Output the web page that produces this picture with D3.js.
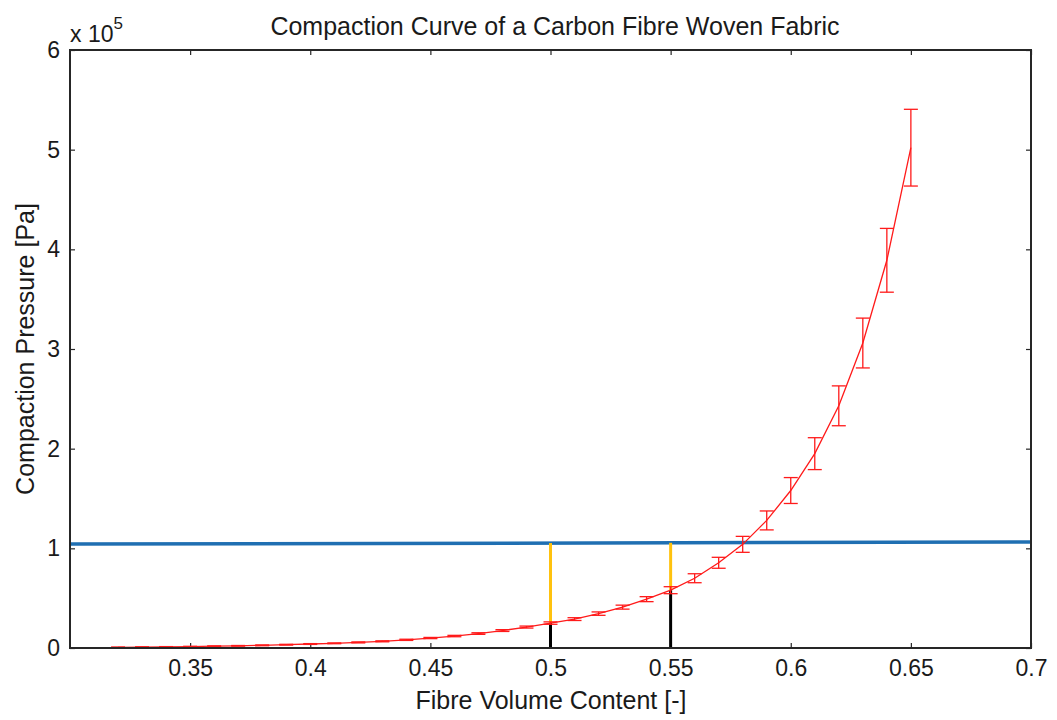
<!DOCTYPE html>
<html>
<head>
<meta charset="utf-8">
<title>Compaction Curve</title>
<style>
	body { margin: 0; background: #fff; }
	text { font-family: "Liberation Sans", Arial, sans-serif; fill: #1a1a1a; }
	.tick text { font-size: 23px; }
	.lbl { font-size: 25px; }
</style>
</head>
<body>
<svg id="chart" width="1057" height="720"></svg>
<script src="https://cdn.jsdelivr.net/npm/d3@7/dist/d3.min.js"></script>
<script>

// fibre volume content of each measurement
var vf = [0.32, 0.33, 0.34, 0.35, 0.36, 0.37, 0.38, 0.39, 0.40, 0.41, 0.42,
	0.43, 0.44, 0.45, 0.46, 0.47, 0.48, 0.49, 0.50, 0.51, 0.52, 0.53, 0.54,
	0.55, 0.56, 0.57, 0.58, 0.59, 0.60, 0.61, 0.62, 0.63, 0.64, 0.65];

// mean pressure, x 10^5 Pa
var pressure = [0.007, 0.009, 0.011, 0.014, 0.018, 0.022, 0.027, 0.033, 0.040, 0.047, 0.056,
	0.067, 0.082, 0.100, 0.120, 0.145, 0.175, 0.210, 0.250, 0.290, 0.345, 0.410, 0.490,
	0.580, 0.700, 0.855, 1.040, 1.280, 1.580, 1.950, 2.430, 3.060, 3.890, 5.020];

// half error, x 10^5 Pa
var err = [0.003, 0.003, 0.003, 0.003, 0.003, 0.003, 0.004, 0.004, 0.004, 0.004, 0.005,
	0.005, 0.006, 0.006, 0.007, 0.008, 0.009, 0.010, 0.012, 0.014, 0.017, 0.020, 0.025,
	0.035, 0.045, 0.055, 0.080, 0.095, 0.130, 0.160, 0.200, 0.250, 0.320, 0.385];

// horizontal reference pressure (start, end)
var refLineX = [0.3, 0.7];
var refLineY = [1.043, 1.063];

// chosen fibre volume contents marked on the curve
var markVf = [0.50, 0.55];

var xTicks = [0.35, 0.4, 0.45, 0.5, 0.55, 0.6, 0.65, 0.7];
var yTicks = [0, 1, 2, 3, 4, 5, 6];

var mLeft = 70, mRight = 1031, mTop = 50, mBottom = 648;

var svg = d3.select('#chart');

var x = d3.scaleLinear().domain([0.3, 0.7]).range([mLeft, mRight]);
var y = d3.scaleLinear().domain([0, 6]).range([mBottom, mTop]);

var pts = vf.map(function(d, i) { return {x: d, y: pressure[i], e: err[i]}; });

// curve value at a given vf
function curveAt(v) {
	var i = vf.findIndex(function(d) { return Math.abs(d - v) < 1e-9; });
	return pressure[i];
}

function refAt(v) {
	var t = (v - refLineX[0]) / (refLineX[1] - refLineX[0]);
	return refLineY[0] + t * (refLineY[1] - refLineY[0]);
}

// axes (ticks inwards on all sides, matlab style)
var axisColor = '#262626';

svg.append('g')
	.attr('transform', 'translate(0,' + mBottom + ')')
	.call(d3.axisBottom(x).tickValues(xTicks).tickSize(-5).tickPadding(12)
		.tickFormat(function(d) { return String(+d.toFixed(2)); }));

svg.append('g')
	.attr('transform', 'translate(0,' + mTop + ')')
	.call(d3.axisTop(x).tickValues(xTicks).tickSize(-5).tickFormat(''));

svg.append('g')
	.attr('transform', 'translate(' + mLeft + ',0)')
	.call(d3.axisLeft(y).tickValues(yTicks).tickSize(-5).tickPadding(10)
		.tickFormat(d3.format('d')));

svg.append('g')
	.attr('transform', 'translate(' + mRight + ',0)')
	.call(d3.axisRight(y).tickValues(yTicks).tickSize(-5).tickFormat(''));

svg.selectAll('.domain').remove();
svg.selectAll('.tick line').attr('stroke', axisColor).attr('stroke-width', 1.2);
svg.selectAll('.tick text').attr('fill', '#1a1a1a');

// data layers
var plot = svg.append('g');

plot.append('line')
	.attr('x1', x(refLineX[0])).attr('y1', y(refLineY[0]))
	.attr('x2', x(refLineX[1])).attr('y2', y(refLineY[1]))
	.attr('stroke', '#1f6fb2').attr('stroke-width', 3.5);

markVf.forEach(function(v) {
	plot.append('line')
		.attr('x1', x(v)).attr('x2', x(v))
		.attr('y1', y(refAt(v))).attr('y2', y(curveAt(v)))
		.attr('stroke', '#ffc20e').attr('stroke-width', 3);
	plot.append('line')
		.attr('x1', x(v)).attr('x2', x(v))
		.attr('y1', y(curveAt(v))).attr('y2', y(0))
		.attr('stroke', '#000').attr('stroke-width', 3);
});

var red = '#ff1a1a';
var capW = 7;

plot.append('path')
	.datum(pts)
	.attr('fill', 'none')
	.attr('stroke', red)
	.attr('stroke-width', 1.3)
	.attr('d', d3.line().x(function(d) { return x(d.x); }).y(function(d) { return y(d.y); }));

var bars = plot.selectAll('.eb').data(pts).enter().append('g').classed('eb', true)
	.attr('stroke', red).attr('stroke-width', 1.3);

bars.append('line')
	.attr('x1', function(d) { return x(d.x); }).attr('x2', function(d) { return x(d.x); })
	.attr('y1', function(d) { return y(d.y - d.e); }).attr('y2', function(d) { return y(d.y + d.e); });
bars.append('line')
	.attr('x1', function(d) { return x(d.x) - capW; }).attr('x2', function(d) { return x(d.x) + capW; })
	.attr('y1', function(d) { return y(d.y + d.e); }).attr('y2', function(d) { return y(d.y + d.e); });
bars.append('line')
	.attr('x1', function(d) { return x(d.x) - capW; }).attr('x2', function(d) { return x(d.x) + capW; })
	.attr('y1', function(d) { return y(d.y - d.e); }).attr('y2', function(d) { return y(d.y - d.e); });

// box
svg.append('rect')
	.attr('x', mLeft).attr('y', mTop)
	.attr('width', mRight - mLeft).attr('height', mBottom - mTop)
	.attr('fill', 'none').attr('stroke', axisColor).attr('stroke-width', 2);

// texts
svg.append('text').classed('lbl', true)
	.attr('x', 555).attr('y', 35).attr('text-anchor', 'middle')
	.text('Compaction Curve of a Carbon Fibre Woven Fabric');

svg.append('text').classed('lbl', true)
	.attr('x', 551).attr('y', 709).attr('text-anchor', 'middle')
	.text('Fibre Volume Content [-]');

svg.append('text').classed('lbl', true)
	.attr('transform', 'translate(34,' + ((mTop + mBottom) / 2) + ') rotate(-90)')
	.attr('text-anchor', 'middle')
	.text('Compaction Pressure [Pa]');

var expo = svg.append('text').classed('lbl', true)
	.style('font-size', '23px')
	.attr('x', 70).attr('y', 42);
expo.append('tspan').text('x 10');
expo.append('tspan').attr('dy', -13).style('font-size', '17px').text('5');

</script>
</body>
</html>
